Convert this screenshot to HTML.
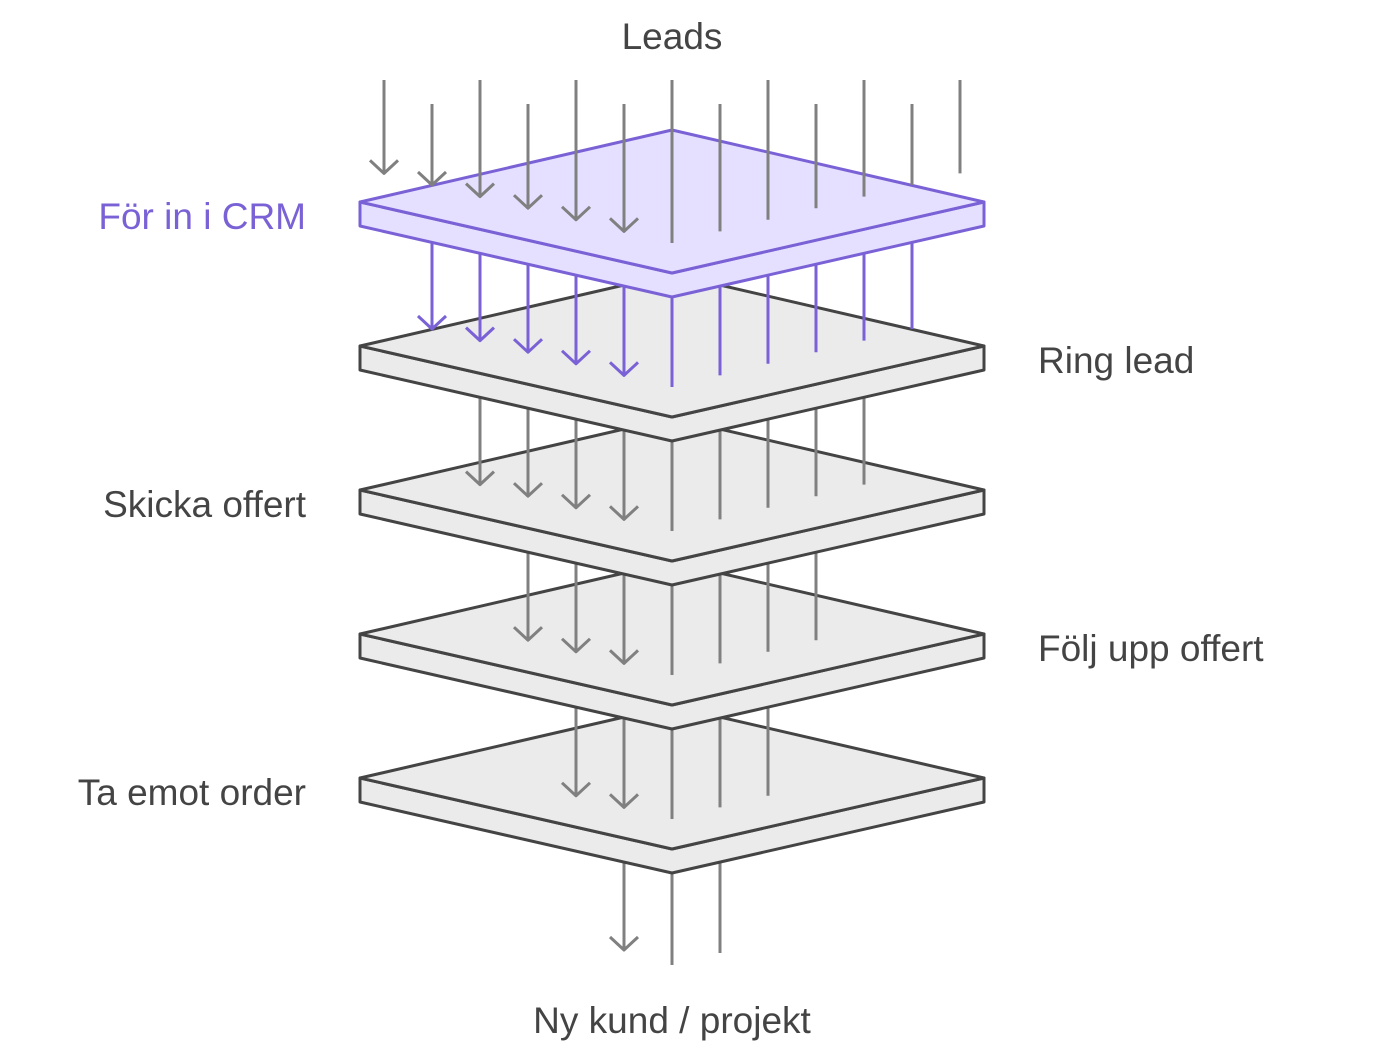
<!DOCTYPE html>
<html><head><meta charset="utf-8"><style>
body{margin:0;background:#fff;width:1392px;height:1047px;overflow:hidden}
svg{display:block}
text{font-family:"Liberation Sans",sans-serif;font-size:37px;fill:#444}
</style></head><body>
<svg id="s" width="1392" height="1047" viewBox="0 0 1392 1047" xmlns="http://www.w3.org/2000/svg">
<text x="672" y="49" text-anchor="middle">Leads</text>
<text x="306" y="229" text-anchor="end" style="fill:#7a62d6">För in i CRM</text>
<text x="1038" y="373">Ring lead</text>
<text x="306" y="517" text-anchor="end">Skicka offert</text>
<text x="1038" y="661">Följ upp offert</text>
<text x="306" y="805" text-anchor="end">Ta emot order</text>
<text x="672" y="1033" text-anchor="middle">Ny kund / projekt</text>
<g id="g"></g>
</svg>
<script>
var g=document.getElementById('g'),h='';
function plate(k,fill,st){var d=144*k;
 h+='<path d="M360,'+(202+d)+' L360,'+(226+d)+' L672,'+(297+d)+' L984,'+(226+d)+' L984,'+(202+d)+' L672,'+(273+d)+' Z" fill="'+fill+'" stroke="'+st+'" stroke-width="3" stroke-linejoin="round"/>';
 h+='<path d="M360,'+(202+d)+' L672,'+(130+d)+' L984,'+(202+d)+' L672,'+(273+d)+' Z" fill="'+fill+'" stroke="'+st+'" stroke-width="3" stroke-linejoin="round"/>';}
function layer(k,col){ // k=0 leads, k>=1 below plate k-1
 var n=6-k;
 for(var i=-n;i<=n;i++){var x=672+48*i,s=Math.abs(i);
  var end=243-11.6*s+144*k;
  var y0=k==0?(s%2==0?80:104):(200+144*(k-1));
  if(k==5&&i==0)end=965; if(k==5&&i==1)end=953; if(k==5&&i==-1)end=950;
  h+='<line x1="'+x+'" y1="'+y0+'" x2="'+x+'" y2="'+end+'" stroke="'+col+'" stroke-width="3"/>';
  if(i<0)h+='<polyline points="'+(x-14)+','+(end-13)+' '+x+','+end+' '+(x+14)+','+(end-13)+'" fill="none" stroke="'+col+'" stroke-width="3" stroke-linejoin="round"/>';
 }}
layer(5,'#808080');plate(4,'#ebebeb','#444');
layer(4,'#808080');plate(3,'#ebebeb','#444');
layer(3,'#808080');plate(2,'#ebebeb','#444');
layer(2,'#808080');plate(1,'#ebebeb','#444');
layer(1,'#7a62d6');plate(0,'#e5e0ff','#7a62d6');
layer(0,'#808080');
g.innerHTML=h;
</script>
</body></html>
